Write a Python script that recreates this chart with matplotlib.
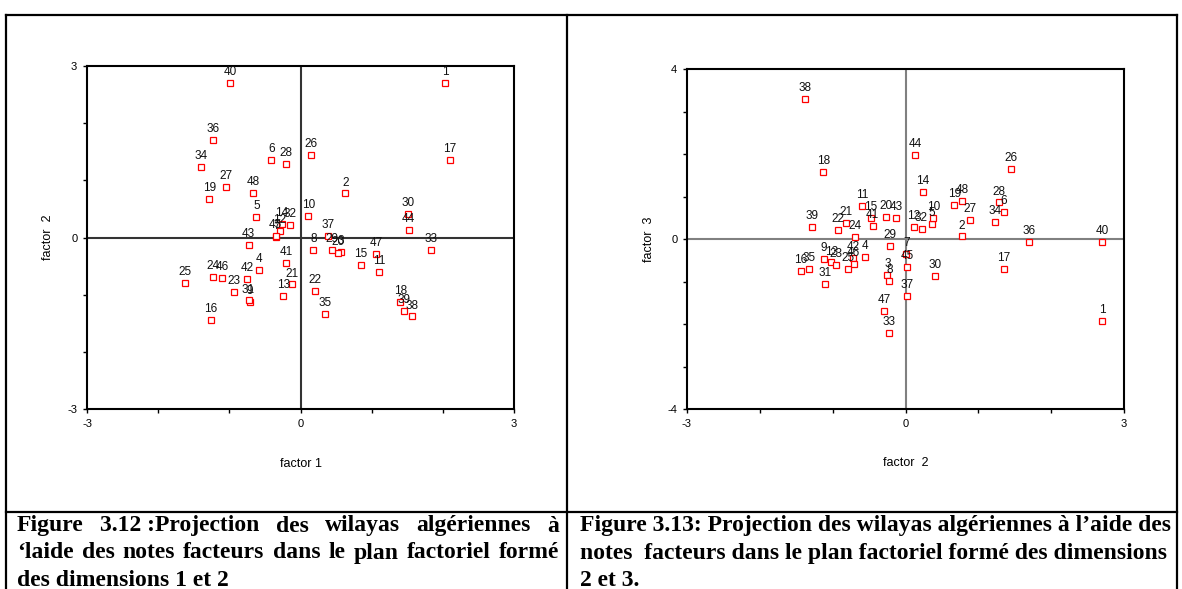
import numpy as np
import matplotlib
matplotlib.use("Agg")
import matplotlib.pyplot as plt
from matplotlib.lines import Line2D

wilaya = list(range(1, 49))
f1 = [2.03, 0.63, 0.57, -0.58, -0.62, -0.41, -0.34, 0.18, -0.71, 0.11,
      1.10, -0.29, -0.24, -0.26, 0.85, -1.26, 2.10, 1.40, -1.28, 0.52,
      -0.12, 0.20, -0.94, -1.23, -1.62, 0.15, -1.05, -0.21, 0.44, 1.51,
      -0.73, -0.15, 1.83, -1.40, 0.35, -1.23, 0.39, 1.57, 1.45, -0.99,
      -0.20, -0.75, -0.73, 1.52, -0.35, -1.10, 1.06, -0.67]
f2 = [2.70, 0.77, -0.25, -0.56, 0.36, 1.35, 0.01, -0.22, -1.12, 0.38,
      -0.60, 0.11, -1.02, 0.24, -0.48, -1.44, 1.35, -1.13, 0.67, -0.27,
      -0.82, -0.93, -0.95, -0.69, -0.79, 1.45, 0.89, 1.28, -0.21, 0.41,
      -1.10, 0.22, -0.22, 1.23, -1.33, 1.70, 0.02, -1.38, -1.29, 2.70,
      -0.45, -0.72, -0.13, 0.13, 0.02, -0.71, -0.29, 0.78]
f3 = [-1.93, 0.06, -0.85, -0.42, 0.35, 0.64, -0.35, -0.98, -0.46, 0.49,
      0.78, 0.28, -0.55, 1.10, 0.50, -0.75, -0.71, 1.58, 0.81, 0.52,
      0.38, 0.22, -0.60, 0.05, -0.71, 1.65, 0.45, 0.86, -0.17, -0.87,
      -1.05, 0.24, -2.20, 0.41, -0.71, -0.07, -1.33, 3.29, 0.28, -0.07,
      0.31, -0.45, 0.49, 1.98, -0.66, -0.58, -1.69, 0.89]

# words of each caption line ("~" keeps a normal space that is not stretched)
cap_left = ["Figure  3.12~:Projection  des  wilayas  algériennes  à",
            "\u2018laide des  notes facteurs dans le plan factoriel formé",
            "des dimensions 1 et 2"]
cap_right = ["Figure 3.13: Projection des wilayas algériennes à l\u2019aide des",
             "notes  facteurs dans le plan factoriel formé des dimensions",
             "2 et 3."]

plt.rcParams['font.family'] = ['Liberation Sans', 'DejaVu Sans']
plt.rcParams['axes.unicode_minus'] = False

W, H = 1182, 589
fig = plt.figure(figsize=(W / 100, H / 100), dpi=100)

def px(x, y):
    return x / W, 1 - y / H

# table borders round the two panels and captions
for (x0, y0, x1, y1) in [(6, 15, 1177, 15), (6, 15, 6, 589), (1177, 15, 1177, 589),
                         (567, 15, 567, 589), (6, 512, 1177, 512)]:
    a, b = px(x0, y0)
    c, d = px(x1, y1)
    fig.add_artist(Line2D([a, c], [b, d], color='black', lw=1.6))

def scatter_panel(rect, xs, ys, lim_x, lim_y, xlabel, ylabel, zero_col, ylab_x):
    ax = fig.add_axes(rect)
    ax.axhline(0, color=zero_col, lw=1.5, zorder=1)
    ax.axvline(0, color=zero_col, lw=1.5, zorder=1)
    ax.plot(xs, ys, 's', ms=4, mfc='white', mec='red', mew=0.9, zorder=3)
    for n, x, y in zip(wilaya, xs, ys):
        ax.annotate(str(n), (x, y), xytext=(0, 3.5), textcoords='offset points',
                    ha='center', va='bottom', fontsize=8.5, color='#111111', zorder=4)
    ax.set_xlim(-lim_x, lim_x)
    ax.set_ylim(-lim_y, lim_y)
    ax.set_xticks([-lim_x, 0, lim_x])
    ax.set_yticks([-lim_y, 0, lim_y])
    ax.set_xticks(np.arange(-lim_x, lim_x + 1), minor=True)
    ax.set_yticks(np.arange(-lim_y, lim_y + 1), minor=True)
    ax.tick_params(which='both', direction='out', length=3, width=1, labelsize=8, pad=4)
    for s in ax.spines.values():
        s.set_linewidth(1.5)
    ax.set_xlabel(xlabel, fontsize=9)
    ax.set_ylabel(ylabel, fontsize=9)
    ax.xaxis.set_label_coords(0.5, -0.142)
    ax.yaxis.set_label_coords(ylab_x, 0.5)
    return ax

scatter_panel([87 / W, 1 - 409 / H, 427 / W, 343 / H], f1, f2, 3, 3,
              'factor 1', 'factor  2', '#333333', -0.078)
scatter_panel([687 / W, 1 - 409 / H, 437 / W, 340 / H], f2, f3, 3, 4,
              'factor  2', 'factor  3', '#808080', -0.074)

# captions, justified like the document text
fig.canvas.draw()
r = fig.canvas.get_renderer()

def caption(lines, x0, x1, y0, justify):
    for i, line in enumerate(lines):
        y = 1 - (y0 + i * 27) / H
        words = [w.replace('~', ' ') for w in line.split()]
        last = i == len(lines) - 1
        if not justify or last or len(words) < 2:
            fig.text(x0 / W, y, line.replace('~', ' '), fontsize=17, fontweight='bold',
                     family='Liberation Serif', va='center')
            continue
        arts = [fig.text(0, y, w, fontsize=17, fontweight='bold',
                         family='Liberation Serif', va='center') for w in words]
        widths = [a.get_window_extent(r).width for a in arts]
        gap = (x1 - x0 - sum(widths)) / (len(words) - 1)
        x = x0
        for a, w in zip(arts, widths):
            a.set_x(x / W)
            x += w + gap

caption(cap_left, 17, 559, 526, True)
caption(cap_right, 580, 1170, 526, False)

fig.savefig('out.png', dpi=100)
